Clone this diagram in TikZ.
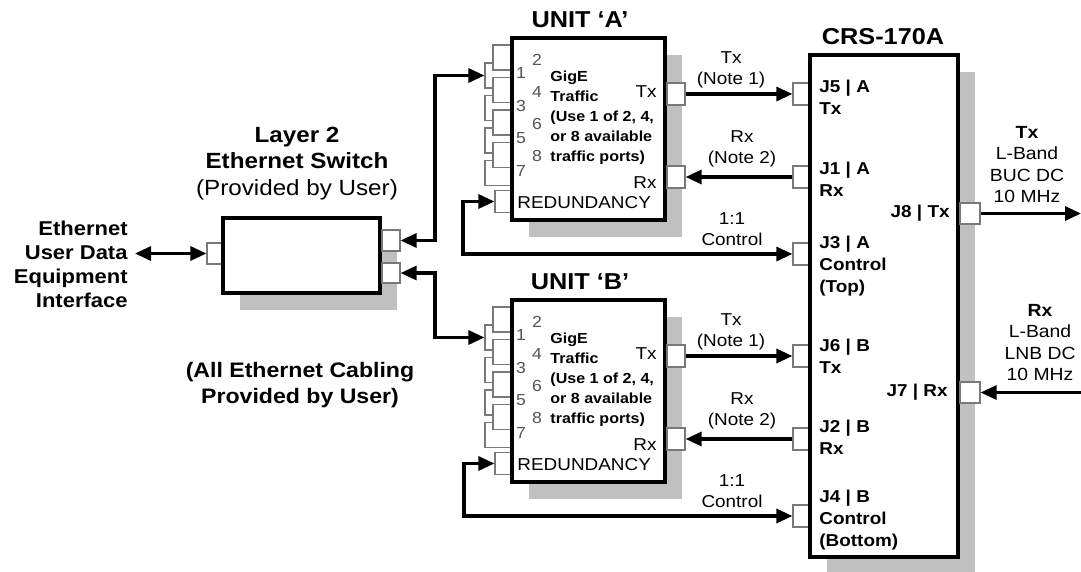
\documentclass[tikz,border=0pt]{standalone}
\usepackage{fontspec}
\setmainfont[FakeStretch=1.1]{Liberation Sans}
\usepackage{tikz}
\usetikzlibrary{arrows.meta, positioning, shadows, calc}
\definecolor{sombraGris}{RGB}{192,192,192}
\definecolor{puertoGris}{RGB}{120,120,120}
\definecolor{numGris}{RGB}{85,85,85}

\tikzset{
  caja/.style={draw=black, line width=2pt, fill=white, inner sep=0pt,
    drop shadow={shadow xshift=8.5pt, shadow yshift=-8.5pt, fill=sombraGris, opacity=1}},
  puerto/.style={draw=puertoGris, line width=0.6pt, fill=white, inner sep=0pt,
    minimum width=9pt, minimum height=11pt},
  conn/.style={line width=1.6pt, -{Triangle[length=8pt,width=7pt]}},
  dconn/.style={line width=1.6pt, {Triangle[length=8pt,width=7pt]}-{Triangle[length=8pt,width=7pt]}},
  txt/.style={inner sep=0pt, font=\fontsize{8.6}{10.2}\selectfont},
  jtxt/.style={inner sep=0pt, font=\bfseries\fontsize{8.6}{10.8}\selectfont},
  gige/.style={inner sep=0pt, font=\bfseries\fontsize{7.3}{10}\selectfont},
  num/.style={inner sep=0pt, text=numGris, font=\fontsize{8}{9}\selectfont},
  titulo/.style={inner sep=0pt, font=\bfseries\fontsize{11.5}{13}\selectfont},
  lado/.style={inner sep=0pt, font=\bfseries\fontsize{10}{12}\selectfont}
}

\begin{document}
\begin{tikzpicture}[x=0.5pt, y=-0.5pt]
  \useasboundingbox (0,0) rectangle (1081,572);

  % Usuario
  \node[lado, anchor=east, align=right, inner xsep=3.5pt] (usr) at (135,264.5)
    {Ethernet\\User Data\\Equipment\\Interface};

  % Conmutador
  \node[puerto, minimum height=10.5pt] (swIn) at (216,253.5) {};
  \node[caja, minimum width=78.5pt, minimum height=37.5pt] (sw) at (301.5,255.5) {};
  \node[puerto, minimum height=10.5pt] (swA) at (391,240.5) {};
  \node[puerto, minimum height=10pt] (swB) at (391,273) {};
  \node[inner sep=0pt, align=center, font=\bfseries\fontsize{11}{13.25}\selectfont] (swTit)
    at (297,163.5) {Layer 2\\Ethernet Switch\\{\mdseries (Provided by User)}};
  \node[inner sep=0pt, align=center, font=\bfseries\fontsize{10.5}{13}\selectfont] (cabl)
    at (300,385) {(All Ethernet Cabling\\Provided by User)};

  % Unidades A y B
  \foreach \un/\L/\dy in {a/A/0, b/B/262} {
    \foreach \ev/\od [count=\k from 0] in {2/1,4/3,6/5,8/7} {
      \node[puerto, minimum width=13pt, minimum height=12.5pt] (\un P\od) at (498,{75.5+32.5*\k+\dy}) {};
      \node[puerto, minimum width=9pt, minimum height=12.5pt] (\un P\ev) at (502,{57.5+32.5*\k+\dy}) {};
    }
    \node[puerto] (\un Red) at (504,{201.5+\dy}) {};
    \node[caja, minimum width=76.5pt, minimum height=91pt] (\un Box) at (588.5,{129+\dy}) {};
    \node[puerto] (\un Tx) at (676,{94+\dy}) {};
    \node[puerto] (\un Rx) at (676,{177+\dy}) {};
    \foreach \ev/\od [count=\k from 0] in {2/1,4/3,6/5,8/7} {
      \node[num] (\un N\ev) at (537,{60+32*\k+\dy}) {\ev};
      \node[num] (\un N\od) at (521,{73+32.5*\k+\dy}) {\od};
    }
    \node[titulo] (\un Tit) at (580,{20+\dy}) {UNIT ‘\L’};
    \node[gige, anchor=west, align=left] (\un Gig) at (550,{117.5+\dy})
      {GigE\\Traffic\\(Use 1 of 2, 4,\\or 8 available\\traffic ports)};
    \node[txt, anchor=east] (\un TxL) at (657,{92+\dy}) {Tx};
    \node[txt, anchor=east] (\un RxL) at (657,{183+\dy}) {Rx};
    \node[txt, anchor=west] (\un RedL) at (517,{203+\dy}) {REDUNDANCY};
  }

  % CRS-170A
  \node[puerto] (j5) at (802,94) {};
  \node[puerto] (j1) at (802,177) {};
  \node[puerto] (j3) at (802,254) {};
  \node[puerto] (j6) at (802,356) {};
  \node[puerto] (j2) at (802,439) {};
  \node[puerto] (j4) at (802,516) {};
  \node[caja, minimum width=74pt, minimum height=251pt] (crs) at (884,306) {};
  \node[puerto, minimum width=10pt, minimum height=10.5pt] (j8) at (970,213.5) {};
  \node[puerto, minimum width=10pt, minimum height=10.5pt] (j7) at (970,392.5) {};
  \node[titulo] (crsTit) at (883,37) {CRS-170A};

  \node[jtxt, anchor=west, align=left] (lJ5) at (819,97.5) {J5 | A\\Tx};
  \node[jtxt, anchor=west, align=left] (lJ1) at (819,179) {J1 | A\\Rx};
  \node[jtxt, anchor=west, align=left] (lJ3) at (819,266) {J3 | A\\Control\\(Top)};
  \node[jtxt, anchor=west, align=left] (lJ6) at (819,356) {J6 | B\\Tx};
  \node[jtxt, anchor=west, align=left] (lJ2) at (819,437.5) {J2 | B\\Rx};
  \node[jtxt, anchor=west, align=left] (lJ4) at (819,520) {J4 | B\\Control\\(Bottom)};
  \node[jtxt, anchor=east] (lJ8) at (950,213) {J8 | Tx};
  \node[jtxt, anchor=east] (lJ7) at (948,392) {J7 | Rx};

  % Etiquetas de enlaces
  \node[txt, align=center] (lTxA) at (731,70) {Tx\\(Note 1)};
  \node[txt, align=center] (lRxA) at (742,149) {Rx\\(Note 2)};
  \node[txt, align=center] (lCtA) at (732,229) {1:1\\Control};
  \node[txt, align=center] (lTxB) at (731,332) {Tx\\(Note 1)};
  \node[txt, align=center] (lRxB) at (742,411) {Rx\\(Note 2)};
  \node[txt, align=center] (lCtB) at (732,491) {1:1\\Control};
  \node[txt, align=center, font=\fontsize{8.8}{10.8}\selectfont] (lSalTx) at (1027,164.5)
    {\textbf{Tx}\\L-Band\\BUC DC\\10 MHz};
  \node[txt, align=center, font=\fontsize{8.8}{10.8}\selectfont] (lEntRx) at (1040,342.5)
    {\textbf{Rx}\\L-Band\\LNB DC\\10 MHz};

  % Conexiones
  \coordinate (codo) at (435,0);
  \coordinate (lazoA) at (463,0);
  \coordinate (lazoB) at (464,0);
  \coordinate (salTx) at (1081,213.5);
  \coordinate (entRx) at (1081,392.5);
  \draw[dconn] (usr.east |- swIn) -- (swIn.west);
  \draw[dconn] (swA.east) -| (codo |- aP1.west) -- (aP1.west);
  \draw[dconn] (swB.east) -| (codo |- bP1.west) -- (bP1.west);
  \draw[conn] (aTx.east) -- (j5.west);
  \draw[conn] (j1.west) -- (aRx.east);
  \draw[dconn] (aRed.west) -| (lazoA |- j3.west) -- (j3.west);
  \draw[conn] (bTx.east) -- (j6.west);
  \draw[conn] (j2.west) -- (bRx.east);
  \draw[dconn] (bRed.west) -| (lazoB |- j4.west) -- (j4.west);
  \draw[conn] (j8.east) -- (salTx);
  \draw[conn] (entRx) -- (j7.east);
\end{tikzpicture}
\end{document}
